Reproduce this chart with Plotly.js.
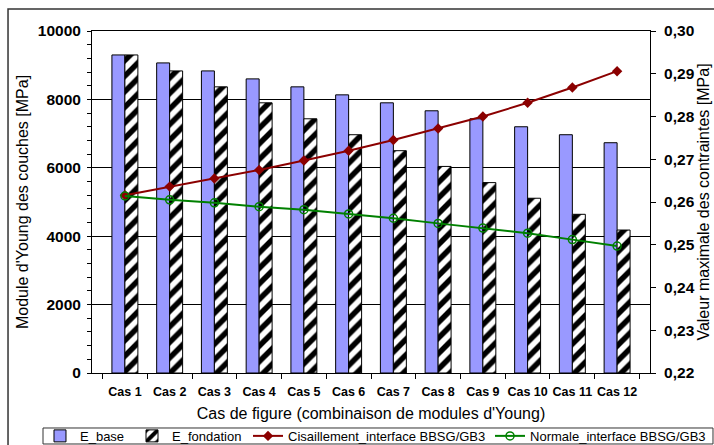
<!DOCTYPE html>
<html><head><meta charset="utf-8">
<script src="https://cdn.plot.ly/plotly-3.0.1.min.js"></script>
<style>html,body{margin:0;padding:0;background:#fff}#chart{width:714px;height:445px}</style>
</head><body><div id="chart"></div>
<script>
const categories = ['Cas 1','Cas 2','Cas 3','Cas 4','Cas 5','Cas 6','Cas 7','Cas 8','Cas 9','Cas 10','Cas 11','Cas 12'];
const eBase = [9300, 9067, 8833, 8600, 8367, 8133, 7900, 7667, 7433, 7200, 6967, 6733];
const eFondation = [9300, 8833, 8367, 7900, 7433, 6967, 6500, 6040, 5567, 5110, 4640, 4180];
const cisaillement = [0.2616, 0.2636, 0.2655, 0.2675, 0.2697, 0.2720, 0.2745, 0.2772, 0.2800, 0.2832, 0.2868, 0.2906];
const normale = [0.2614, 0.2605, 0.2598, 0.2589, 0.2582, 0.2572, 0.2562, 0.2550, 0.2539, 0.2527, 0.2512, 0.2497];

const FONT = 'Liberation Sans, Arial, sans-serif';
const traces = [
  {type:'bar', name:'E_base', x:categories, y:eBase, legend:'legend',
   marker:{color:'#9999FF', line:{color:'#000', width:1}}},
  {type:'bar', name:'E_fondation', x:categories, y:eFondation, legend:'legend2',
   marker:{color:'#fff', line:{color:'#000', width:1}, pattern:{shape:'/', fgcolor:'#000', bgcolor:'#fff', size:11, solidity:0.5}}},
  {type:'scatter', mode:'lines+markers', name:'Cisaillement_interface BBSG/GB3', x:categories, y:cisaillement, yaxis:'y2', legend:'legend3',
   line:{color:'#8B0000', width:2}, marker:{symbol:'diamond', size:8, color:'#8B0000'}},
  {type:'scatter', mode:'lines+markers', name:'Normale_interface BBSG/GB3', x:categories, y:normale, yaxis:'y2', legend:'legend4',
   line:{color:'#008000', width:2}, marker:{symbol:'circle-open', size:8, color:'#008000', line:{width:1.5}}}
];

function leg(x){
  return {orientation:'h', x:x, xanchor:'left', y:-0.184, yanchor:'middle',
    font:{size:13, family:FONT}, bgcolor:'rgba(0,0,0,0)', borderwidth:0, itemwidth:30};
}

const layout = {
  width:714, height:445,
  margin:{l:92, r:64, t:31, b:72, autoexpand:false},
  paper_bgcolor:'#fff', plot_bgcolor:'#fff',
  font:{family:FONT, color:'#000'},
  separators:', ',
  barmode:'group', bargap:0.42, bargroupgap:0,
  showlegend:true,
  legend:leg(-0.0932), legend2:leg(0.0717), legend3:leg(0.2796), legend4:leg(0.7133),
  xaxis:{type:'category', showline:true, linecolor:'#000', linewidth:1, mirror:true,
    ticks:'outside', ticklen:5, tickcolor:'#000', tickson:'boundaries', tickangle:0, ticklabelstandoff:7,
    tickfont:{size:12.5, family:FONT, weight:'bold'},
    title:{text:'Cas de figure (combinaison de modules d\'Young)', font:{size:16, family:FONT}, standoff:9},
    automargin:false, showgrid:false},
  yaxis:{range:[0,10000], dtick:2000, tickformat:'d', showline:true, linecolor:'#000', linewidth:1,
    ticks:'outside', ticklen:4, tickcolor:'#000', ticklabelstandoff:3,
    minor:{dtick:400, ticks:'outside', ticklen:4, tickcolor:'#000', showgrid:false},
    showgrid:true, gridcolor:'#000', gridwidth:1, zeroline:false,
    tickfont:{size:15.5, family:FONT, weight:'bold'},
    title:{text:'Module d\'Young des couches [MPa]', font:{size:16, family:FONT}, standoff:5},
    automargin:false},
  yaxis2:{overlaying:'y', side:'right', range:[0.22,0.30], dtick:0.01, tickformat:'.2f',
    showline:true, linecolor:'#000', linewidth:1, ticks:'outside', ticklen:5, tickcolor:'#000', ticklabelstandoff:5,
    showgrid:false, zeroline:false,
    tickfont:{size:15.5, family:FONT, weight:'bold'},
    title:{text:'Valeur maximale des contraintes [MPa]', font:{size:16, family:FONT}, standoff:4},
    automargin:false},
  shapes:[
    {type:'rect', xref:'paper', yref:'paper', x0:-0.1505, x1:1.12, y0:-0.23, y1:1.0643,
     line:{color:'#333', width:1.5}, fillcolor:'rgba(0,0,0,0)', layer:'below'},
    {type:'rect', xref:'paper', yref:'paper', x0:-0.0878, x1:1.1129, y0:-0.2076, y1:-0.1608,
     line:{color:'#333', width:1}, fillcolor:'rgba(0,0,0,0)', layer:'below'}
  ]
};
Plotly.newPlot('chart', traces, layout, {displayModeBar:false, staticPlot:true});
</script></body></html>
